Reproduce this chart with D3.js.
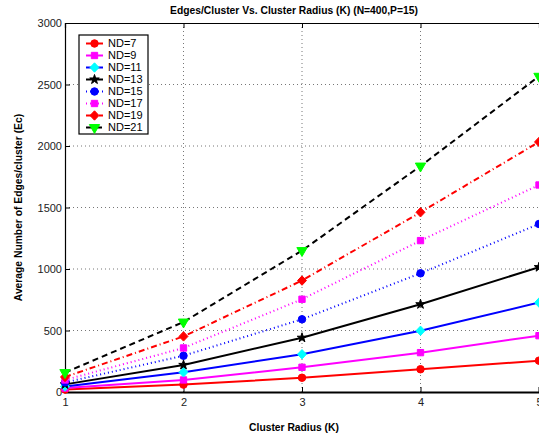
<!DOCTYPE html>
<html>
<head>
<meta charset="utf-8">
<script src="https://cdn.jsdelivr.net/npm/d3@7"></script>
<style>
  body { margin: 0; background: #fff; }
  svg { display: block; font-family: "Liberation Sans", Arial, sans-serif; }
</style>
</head>
<body>
<svg id="chart" width="539" height="435"></svg>
<script>
// cluster radius K
const radius = [1, 2, 3, 4, 5];

// average edges per cluster, one array per node degree
const nd7  = [20, 60, 116, 185, 255];
const nd9  = [32, 98, 201, 320, 458];
const nd11 = [45, 160, 307, 498, 727];
const nd13 = [62, 220, 441, 713, 1015];
const nd15 = [78, 295, 591, 965, 1366];
const nd17 = [98, 358, 754, 1231, 1683];
const nd19 = [122, 452, 906, 1461, 2033];
const nd21 = [158, 569, 1150, 1837, 2567];

const xTicks = [1, 2, 3, 4, 5];
const yTicks = [0, 500, 1000, 1500, 2000, 2500, 3000];

const series = [
    { label: 'ND=7',  values: nd7,  line: '#ff0000', dash: null,      marker: 'circle',   fill: '#ff0000' },
    { label: 'ND=9',  values: nd9,  line: '#ff00ff', dash: null,      marker: 'square',   fill: '#ff00ff' },
    { label: 'ND=11', values: nd11, line: '#0000ff', dash: null,      marker: 'diamond',  fill: '#00ffff' },
    { label: 'ND=13', values: nd13, line: '#000000', dash: null,      marker: 'star',     fill: '#000000' },
    { label: 'ND=15', values: nd15, line: '#0000ff', dash: '1,3',     marker: 'circle',   fill: '#0000ff' },
    { label: 'ND=17', values: nd17, line: '#ff00ff', dash: '1,3',     marker: 'square',   fill: '#ff00ff' },
    { label: 'ND=19', values: nd19, line: '#ff0000', dash: '6,3,1,3', marker: 'diamond',  fill: '#ff0000' },
    { label: 'ND=21', values: nd21, line: '#000000', dash: '6,4',     marker: 'triangle', fill: '#00ff00' }
];

const m = { left: 65, right: 539, top: 23, bottom: 392 };

const svg = d3.select('#chart');

const x = d3.scaleLinear().domain([1, 5]).range([m.left, m.right]);
const y = d3.scaleLinear().domain([0, 3000]).range([m.bottom, m.top]);

// matlab style diamond: a square turned on its corner
const diamondType = {
    draw(ctx, size) {
        const r = Math.sqrt(size / 2);
        ctx.moveTo(0, -r * 1.05);
        ctx.lineTo(r, 0);
        ctx.lineTo(0, r * 1.05);
        ctx.lineTo(-r, 0);
        ctx.closePath();
    }
};

const symbols = {
    circle: d3.symbol().type(d3.symbolCircle).size(44),
    square: d3.symbol().type(d3.symbolSquare).size(40),
    diamond: d3.symbol().type(diamondType).size(40),
    star: d3.symbol().type(d3.symbolStar).size(28),
    triangle: d3.symbol().type(d3.symbolTriangle).size(46)
};

// grid
svg.append('g')
    .selectAll('line')
    .data(xTicks.slice(1, -1))
    .join('line')
        .attr('x1', d => x(d)).attr('x2', d => x(d))
        .attr('y1', m.top).attr('y2', m.bottom)
        .attr('stroke', '#777')
        .attr('stroke-dasharray', '1,3');

svg.append('g')
    .selectAll('line')
    .data(yTicks.slice(1, -1))
    .join('line')
        .attr('x1', m.left).attr('x2', m.right)
        .attr('y1', d => y(d)).attr('y2', d => y(d))
        .attr('stroke', '#777')
        .attr('stroke-dasharray', '1,3');

// axes
const xAxis = svg.append('g')
    .attr('transform', `translate(0,${m.bottom})`)
    .call(d3.axisBottom(x).tickValues(xTicks).tickSize(-5).tickPadding(6).tickFormat(d3.format('d')));
xAxis.select('.domain').attr('stroke-width', 2);

const yAxis = svg.append('g')
    .attr('transform', `translate(${m.left},0)`)
    .call(d3.axisLeft(y).tickValues(yTicks).tickSize(-5).tickPadding(3).tickFormat(d3.format('d')));
yAxis.select('.domain').attr('stroke-width', 1.2);

svg.append('g')
    .attr('transform', `translate(0,${m.top})`)
    .call(d3.axisTop(x).tickValues(xTicks).tickSize(-5).tickFormat(''))
    .select('.domain').attr('stroke-width', 1.2);

svg.selectAll('.tick text')
    .attr('font-size', 11)
    .attr('fill', '#222')
    .attr('font-family', '"Liberation Sans", Arial, sans-serif');

// lines
const line = d3.line()
    .x((d, i) => x(radius[i]))
    .y(d => y(d));

const lines = svg.append('g');
series.forEach(s => {
    lines.append('path')
        .datum(s.values)
        .attr('d', line)
        .attr('fill', 'none')
        .attr('stroke', s.line)
        .attr('stroke-width', 2)
        .attr('stroke-dasharray', s.dash);
});

// markers
series.forEach(s => {
    svg.append('g')
        .selectAll('path')
        .data(s.values)
        .join('path')
            .attr('d', symbols[s.marker])
            .attr('transform', (d, i) => `translate(${x(radius[i])},${y(d)})` + (s.marker === 'triangle' ? ' rotate(180)' : ''))
            .attr('fill', s.fill)
            .attr('stroke', s.fill);
});

// titles
const midX = 294;

svg.append('text')
    .attr('x', midX)
    .attr('y', 14)
    .attr('text-anchor', 'middle')
    .attr('font-size', 10.3)
    .attr('font-weight', 'bold')
    .text('Edges/Cluster Vs. Cluster Radius (K) (N=400,P=15)');

svg.append('text')
    .attr('x', midX)
    .attr('y', 431)
    .attr('text-anchor', 'middle')
    .attr('font-size', 10.3)
    .attr('font-weight', 'bold')
    .text('Cluster Radius (K)');

svg.append('text')
    .attr('transform', `translate(22,${(m.top + m.bottom) / 2}) rotate(-90)`)
    .attr('text-anchor', 'middle')
    .attr('font-size', 10.3)
    .attr('font-weight', 'bold')
    .text('Average Number of Edges/cluster (Ec)');

// legend
const legend = svg.append('g').attr('transform', 'translate(79,35)');
legend.append('rect')
    .attr('width', 69).attr('height', 99)
    .attr('fill', '#fff')
    .attr('stroke', '#000')
    .attr('stroke-width', 1.2);

const row = legend.selectAll('.row')
    .data(series)
    .join('g')
        .attr('class', 'row')
        .attr('transform', (d, i) => `translate(0,${8.5 + i * 12})`);

row.append('line')
    .attr('x1', 7).attr('x2', 24)
    .attr('stroke', d => d.line)
    .attr('stroke-width', 2)
    .attr('stroke-dasharray', d => d.dash);

row.append('path')
    .attr('d', d => symbols[d.marker](d))
    .attr('transform', d => 'translate(15.5,0)' + (d.marker === 'triangle' ? ' rotate(180)' : ''))
    .attr('fill', d => d.fill)
    .attr('stroke', d => d.fill);

row.append('text')
    .attr('x', 29)
    .attr('dy', '0.35em')
    .attr('font-size', 11)
    .text(d => d.label);
</script>
</body>
</html>
